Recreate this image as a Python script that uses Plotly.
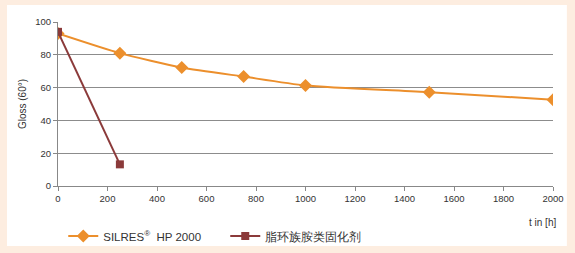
import plotly.graph_objects as go

silres_t = [0, 250, 500, 750, 1000, 1500, 2000]
silres_gloss = [93, 81, 72.3, 66.7, 61.3, 57.2, 52.6]
amine_t = [0, 250]
amine_gloss = [94, 13.2]
x_ticks = list(range(0, 2001, 200))
y_ticks = [0, 20, 40, 60, 80, 100]

fig = go.Figure()
fig.add_trace(go.Scatter(
    x=silres_t, y=silres_gloss, mode="lines+markers", name="SILRES<sup>®</sup>  HP 2000",
    line=dict(color="#ec8f2c", width=2, shape="spline", smoothing=0.6),
    marker=dict(symbol="diamond", size=10, color="#ec8f2c")))
fig.add_trace(go.Scatter(
    x=amine_t, y=amine_gloss, mode="lines+markers", name="脂环族胺类固化剂",
    line=dict(color="#8b3a3a", width=2),
    marker=dict(symbol="square", size=8, color="#8b3a3a")))

fig.update_layout(
    width=575, height=253,
    margin=dict(l=58, r=22, t=22, b=67, autoexpand=False),
    paper_bgcolor="#fdede0",
    plot_bgcolor="white",
    font=dict(family="Liberation Sans, Arial, sans-serif", size=11, color="#333333"),
    showlegend=True,
    legend=dict(orientation="h", xref="container", yref="container", x=0.11, y=0.067,
                xanchor="left", yanchor="middle",
                font=dict(size=11.5, color="#333333"), bgcolor="rgba(0,0,0,0)",
                itemwidth=30, entrywidth=117, entrywidthmode="pixels", tracegroupgap=0),
    shapes=[dict(type="rect", xref="paper", yref="paper", x0=-0.103, x1=1.028,
                 y0=-0.366, y1=1.104, fillcolor="white", line=dict(width=0), layer="below")],
    annotations=[dict(text="t in [h]", xref="paper", yref="paper", x=1.01, y=-0.22,
                      xanchor="right", yanchor="middle", showarrow=False,
                      font=dict(size=10, color="#333333"))],
)
fig.update_xaxes(range=[0, 2000], tickvals=x_ticks, showgrid=False, showline=True,
                 linecolor="#888888", linewidth=1, ticks="outside", ticklen=4,
                 tickcolor="#888888", tickfont=dict(size=9.5, color="#333333"), zeroline=False)
fig.update_yaxes(range=[0, 100], tickvals=y_ticks, showgrid=True, gridcolor="#8c8c8c",
                 gridwidth=1, showline=True, linecolor="#888888", linewidth=1,
                 ticks="outside", ticklen=4, tickcolor="#888888",
                 tickfont=dict(size=9.5, color="#333333"), zeroline=False,
                 title=dict(text="Gloss (60°)", font=dict(size=10, color="#333333"), standoff=6))

fig.write_html("out.html")
